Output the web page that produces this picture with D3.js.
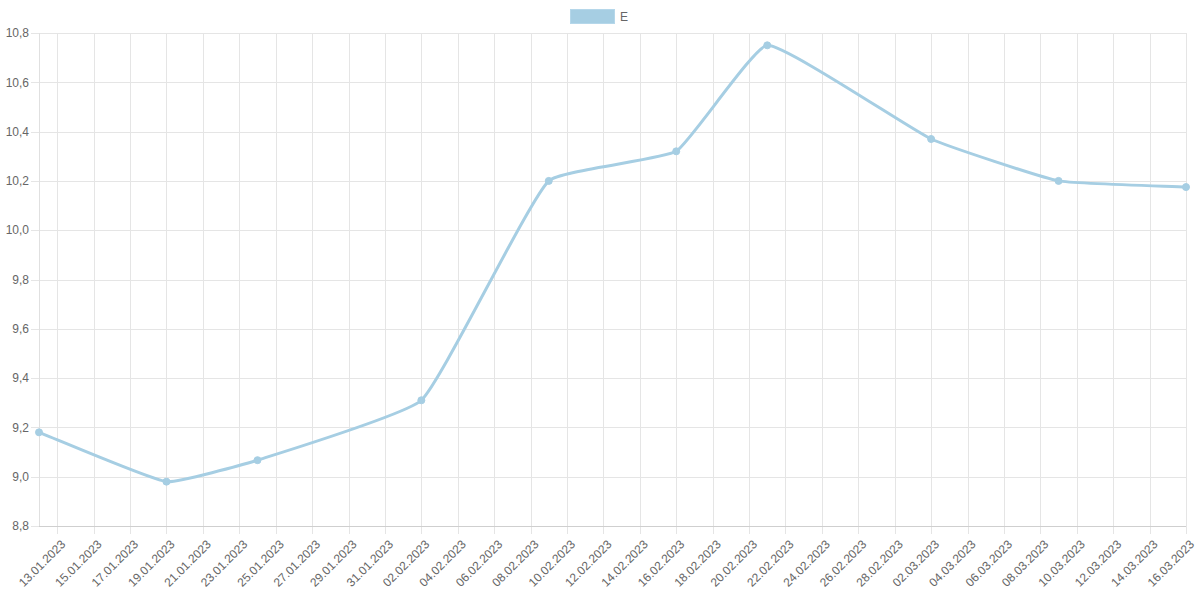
<!DOCTYPE html>
<html>
<head>
<meta charset="utf-8">
<script src="https://cdn.jsdelivr.net/npm/d3@7"></script>
<style>
  html, body { margin: 0; padding: 0; background: #fff; }
  svg { display: block; }
  text { font-family: Arial, "Liberation Sans", Helvetica, sans-serif; }
</style>
</head>
<body>
<svg id="chart" width="1200" height="599"></svg>
<script>
// ---- data ----
const seriesName = "E";
const dates = ["2023-01-12", "2023-01-19", "2023-01-24", "2023-02-02", "2023-02-09",
               "2023-02-16", "2023-02-21", "2023-03-02", "2023-03-09", "2023-03-16"];
const values = [9.18, 8.98, 9.067, 9.31, 10.2, 10.32, 10.75, 10.37, 10.2, 10.175];
const yTicks = [8.8, 9.0, 9.2, 9.4, 9.6, 9.8, 10.0, 10.2, 10.4, 10.6, 10.8];
const xTickStart = "2023-01-13";
const xTickEnd = "2023-03-16";
const xTickStepDays = 2;

(function () {
// ---- layout ----
const mLeft = 39, mRight = 1186, mTop = 33, mBottom = 526;
const color = "#a6cee3";
const textColor = "#666";
const gridColor = "#e5e5e5";

const parse = d3.utcParse("%Y-%m-%d");
const fmt = d3.utcFormat("%d.%m.%Y");
const data = dates.map((d, i) => ({ date: parse(d), value: values[i] }));

const x = d3.scaleUtc().domain([parse(dates[0]), parse(dates[dates.length - 1])]).range([mLeft, mRight]);
const y = d3.scaleLinear().domain([8.8, 10.8]).range([mBottom, mTop]);

const xTicks = d3.utcDays(parse(xTickStart), d3.utcDay.offset(parse(xTickEnd), 1), xTickStepDays);

const svg = d3.select("#chart");

// grid: horizontal
svg.append("g").selectAll("line").data(yTicks).join("line")
  .attr("x1", mLeft - 8).attr("x2", mRight)
  .attr("y1", d => Math.round(y(d)) + 0.5).attr("y2", d => Math.round(y(d)) + 0.5)
  .attr("stroke", gridColor).attr("stroke-width", 1);

// grid: vertical
svg.append("g").selectAll("line").data(xTicks).join("line")
  .attr("x1", d => Math.round(x(d)) + 0.5).attr("x2", d => Math.round(x(d)) + 0.5)
  .attr("y1", mTop).attr("y2", mBottom + 8)
  .attr("stroke", gridColor).attr("stroke-width", 1);

// axis lines
svg.append("line").attr("x1", mLeft + 0.5).attr("x2", mLeft + 0.5).attr("y1", mTop).attr("y2", mBottom)
  .attr("stroke", "#e0e0e0");
svg.append("line").attr("x1", mLeft).attr("x2", mRight).attr("y1", mBottom + 0.5).attr("y2", mBottom + 0.5)
  .attr("stroke", "#cfcfcf");

// y labels
const yFmt = d => d3.format(".1f")(d).replace(".", ",");
svg.append("g").selectAll("text").data(yTicks).join("text")
  .attr("x", mLeft - 10).attr("y", d => y(d))
  .attr("dy", "0.35em").attr("text-anchor", "end")
  .attr("font-size", 12).attr("fill", textColor)
  .text(yFmt);

// x labels
svg.append("g").selectAll("text").data(xTicks).join("text")
  .attr("transform", d => `translate(${x(d) + 6},${mBottom + 16}) rotate(-45)`)
  .attr("dy", "0.35em").attr("text-anchor", "end")
  .attr("font-size", 12).attr("fill", textColor)
  .text(d => fmt(d));

// line (Chart.js-like spline)
const pts = data.map(d => [x(d.date), y(d.value)]);
const tension = 0.12;
const cps = pts.map((p, i) => {
  const prev = pts[i - 1] || p, next = pts[i + 1] || p;
  const d01 = Math.hypot(p[0] - prev[0], p[1] - prev[1]);
  const d12 = Math.hypot(next[0] - p[0], next[1] - p[1]);
  let s01 = d01 / (d01 + d12), s12 = d12 / (d01 + d12);
  if (!isFinite(s01)) s01 = 0;
  if (!isFinite(s12)) s12 = 0;
  const fa = tension * s01, fb = tension * s12;
  return {
    prev: [p[0] - fa * (next[0] - prev[0]), p[1] - fa * (next[1] - prev[1])],
    next: [p[0] + fb * (next[0] - prev[0]), p[1] + fb * (next[1] - prev[1])]
  };
});
const path = d3.path();
path.moveTo(pts[0][0], pts[0][1]);
for (let i = 1; i < pts.length; i++) {
  path.bezierCurveTo(cps[i - 1].next[0], cps[i - 1].next[1], cps[i].prev[0], cps[i].prev[1], pts[i][0], pts[i][1]);
}
svg.append("path").attr("d", path.toString())
  .attr("fill", "none").attr("stroke", color).attr("stroke-width", 3)
  .attr("stroke-linejoin", "round");

// points
svg.append("g").selectAll("circle").data(data).join("circle")
  .attr("cx", d => x(d.date)).attr("cy", d => y(d.value)).attr("r", 3.5)
  .attr("fill", color).attr("stroke", color).attr("stroke-width", 1);

// legend
const lg = svg.append("g");
lg.append("rect").attr("x", 570.5).attr("y", 9.5).attr("width", 44).attr("height", 14)
  .attr("fill", color).attr("stroke", "#b5d7ea").attr("stroke-width", 1);
lg.append("text").attr("x", 620).attr("y", 16.5).attr("dy", "0.35em")
  .attr("font-size", 12).attr("fill", textColor).text(seriesName);
})();
</script>
</body>
</html>
